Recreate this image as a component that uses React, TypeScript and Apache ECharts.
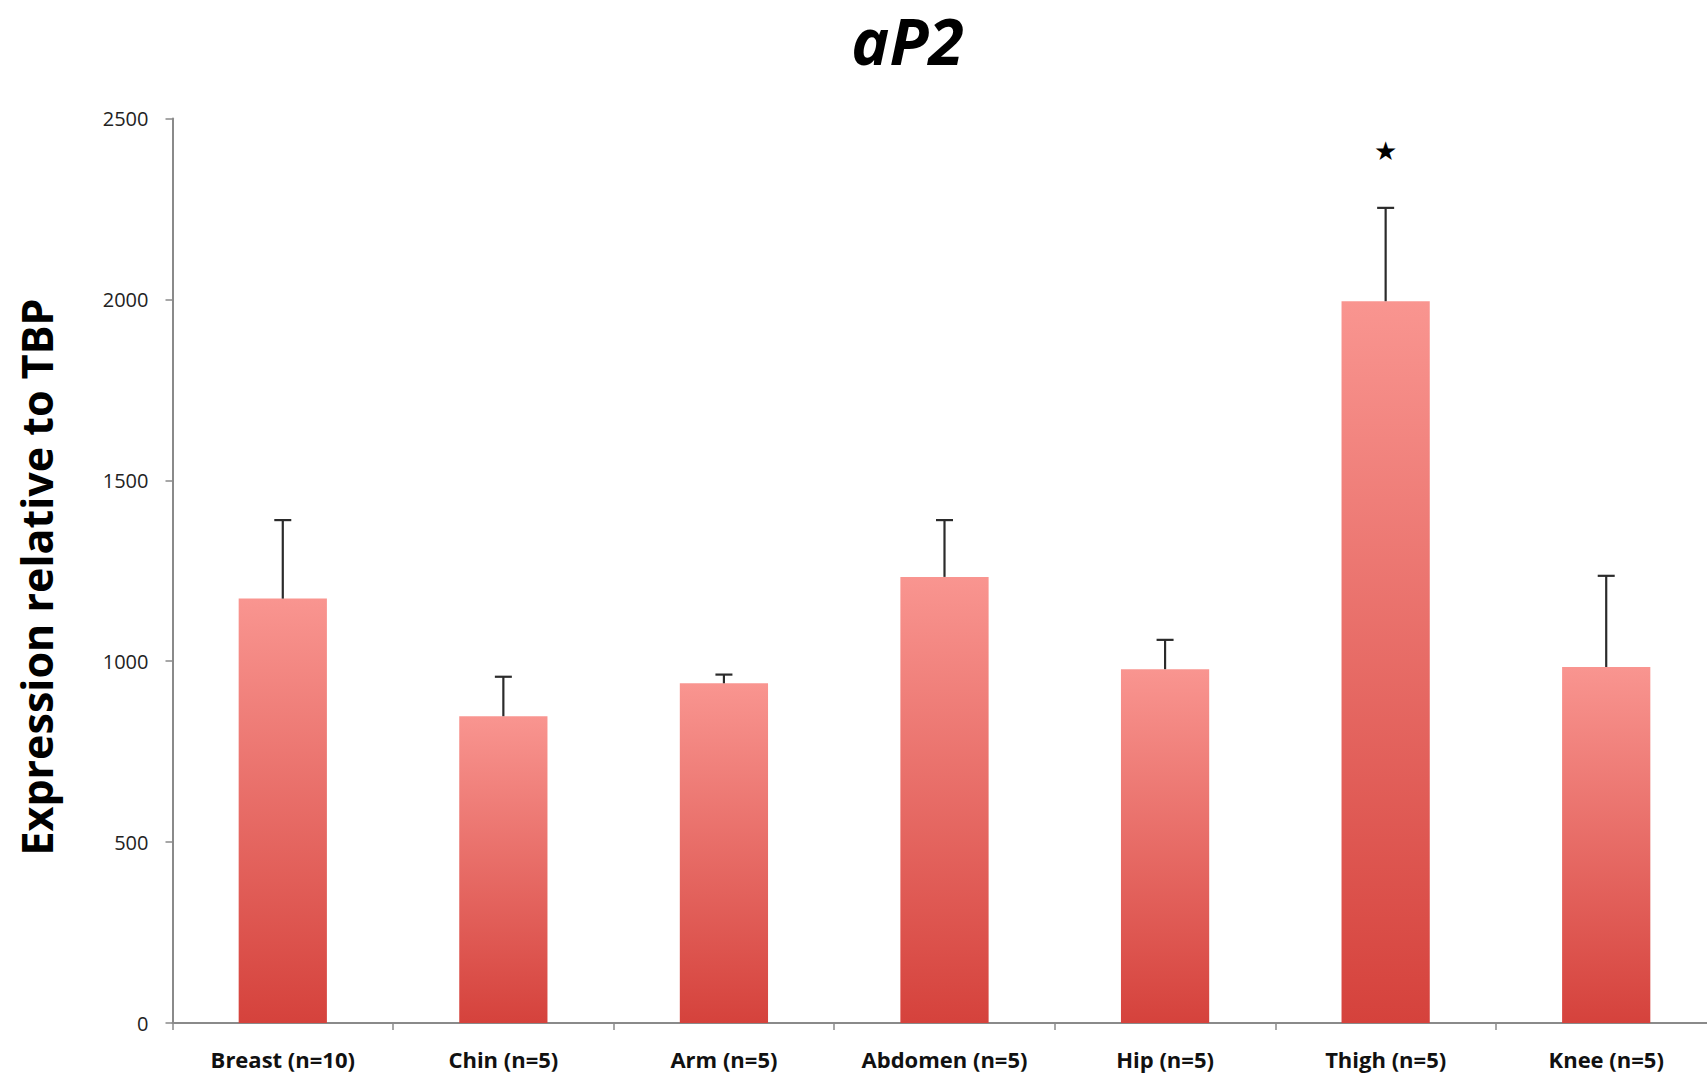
import React, { useEffect, useRef } from "react";
import * as echarts from "echarts";

const categories = ["Breast (n=10)", "Chin (n=5)", "Arm (n=5)", "Abdomen (n=5)", "Hip (n=5)", "Thigh (n=5)", "Knee (n=5)"];
const means = [1173, 848, 939, 1233, 978, 1995, 984];
const errors = [217, 109, 24, 157, 81, 258, 252];
const significance = ["", "", "", "", "", "★", ""];
const significanceValue = 2410;
const yTicks = { min: 0, max: 2500, interval: 500 };
const yAxisTitle = "Expression relative to TBP";
const chartTitle = "aP2";

export default function App() {
  const ref = useRef<HTMLDivElement>(null);
  useEffect(() => {
    if (!ref.current) return;
    const chart = echarts.init(ref.current, null, { renderer: "svg" });
    const errData = means.map((m, i) => [i, m, errors[i]]);
    const starData = significance
      .map((s, i) => (s ? [i, significanceValue, s] : null))
      .filter((d) => d !== null);
    chart.setOption({
      animation: false,
      backgroundColor: "#ffffff",
      graphic: [
        {
          type: "text",
          x: 907.5,
          y: 40,
          style: {
            text: chartTitle,
            fontFamily: "Open Sans",
            fontSize: 64,
            lineHeight: 64,
            fontWeight: "bold",
            fontStyle: "italic",
            fill: "#000",
            align: "center",
            verticalAlign: "middle",
          },
        },
        {
          type: "text",
          x: 36,
          y: 577,
          rotation: Math.PI / 2,
          style: {
            text: yAxisTitle,
            fontFamily: "Open Sans",
            fontSize: 43,
            fontWeight: "bold",
            fill: "#000",
            align: "center",
            verticalAlign: "middle",
          },
        },
      ],
      grid: { left: 172.5, top: 118.5, right: 13.5, height: 904.5 },
      xAxis: {
        type: "category",
        data: categories,
        axisLine: { lineStyle: { color: "#8a8a8a", width: 2 } },
        axisTick: { show: true, length: 7, lineStyle: { color: "#8a8a8a", width: 1.5 } },
        axisLabel: { margin: 25, fontFamily: "Open Sans", fontSize: 22, fontWeight: "bold", color: "#111" },
      },
      yAxis: {
        type: "value",
        min: yTicks.min,
        max: yTicks.max,
        interval: yTicks.interval,
        axisLine: { show: true, lineStyle: { color: "#8a8a8a", width: 2 } },
        axisTick: { show: true, length: 7, lineStyle: { color: "#8a8a8a", width: 1.5 } },
        axisLabel: {
          margin: 24,
          fontFamily: "Open Sans",
          fontSize: 20,
          color: "#222",
          formatter: (v: number) => String(v),
        },
        splitLine: { show: false },
      },
      series: [
        {
          type: "bar",
          data: means,
          barWidth: "40%",
          itemStyle: {
            color: new echarts.graphic.LinearGradient(0, 0, 0, 1, [
              { offset: 0, color: "#f99590" },
              { offset: 1, color: "#d5423c" },
            ]),
          },
          z: 2,
        },
        {
          type: "custom",
          data: errData,
          z: 3,
          renderItem: (params: any, api: any) => {
            const i = api.value(0);
            const base = api.coord([i, api.value(1)]);
            const top = api.coord([i, api.value(1) + api.value(2)]);
            const half = 8.5;
            return {
              type: "group",
              children: [
                { type: "line", shape: { x1: base[0], y1: base[1], x2: top[0], y2: top[1] }, style: { stroke: "#2b2b2b", lineWidth: 2.2 } },
                { type: "line", shape: { x1: top[0] - half, y1: top[1], x2: top[0] + half, y2: top[1] }, style: { stroke: "#2b2b2b", lineWidth: 2.2 } },
              ],
            };
          },
        },
        {
          type: "custom",
          data: starData,
          z: 4,
          renderItem: (params: any, api: any) => {
            const p = api.coord([api.value(0), api.value(1)]);
            return {
              type: "text",
              x: p[0],
              y: p[1],
              style: {
                text: starData[params.dataIndex][2],
                fontSize: 26,
                fill: "#000",
                align: "center",
                verticalAlign: "middle",
                fontFamily: "DejaVu Sans",
              },
            };
          },
        },
      ],
    });
    return () => chart.dispose();
  }, []);
  return (
    <div
      ref={ref}
      style={{ position: "fixed", left: 0, top: 0, width: 1730, height: 1079, background: "#fff" }}
    />
  );
}
